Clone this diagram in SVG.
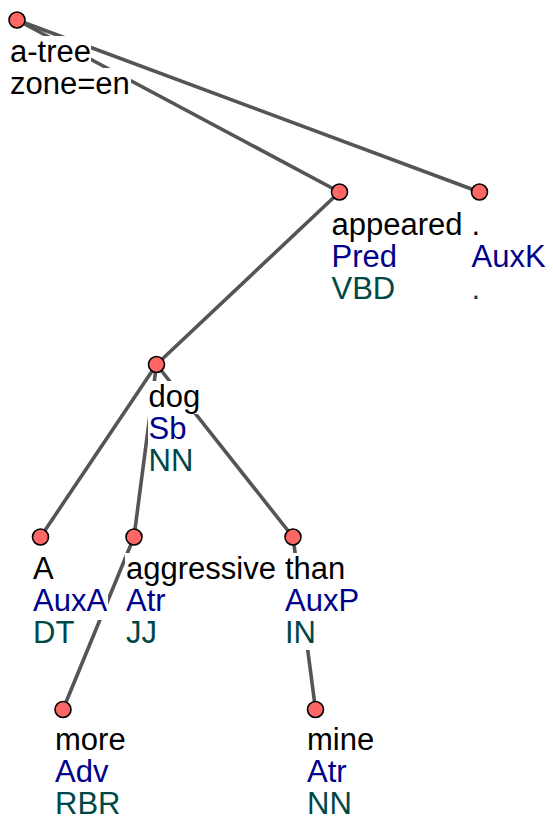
<svg xmlns="http://www.w3.org/2000/svg" width="553" height="825" viewBox="0 0 553 825">
<style>
.edge{stroke:#555555;stroke-width:3.6;stroke-linecap:round;fill:none}
.node{fill:#ff6666;stroke:#000000;stroke-width:1.6}
.bg{fill:#ffffff}
text{font-family:"Liberation Sans",Arial,sans-serif;font-size:31px}
.f{fill:#000000}
.a{fill:#00008b}
.t{fill:#004848}
</style>
<rect width="553" height="825" fill="#ffffff"/>
<g id="connectors">
<line class="edge" x1="17" y1="20" x2="339.5" y2="192"/>
<line class="edge" x1="17" y1="20" x2="479.5" y2="192"/>
<line class="edge" x1="156.5" y1="364.5" x2="339.5" y2="192"/>
<line class="edge" x1="156.5" y1="364.5" x2="40.5" y2="537"/>
<line class="edge" x1="156.5" y1="364.5" x2="134" y2="537"/>
<line class="edge" x1="156.5" y1="364.5" x2="293" y2="537"/>
<line class="edge" x1="134" y1="537" x2="63" y2="709.5"/>
<line class="edge" x1="293" y1="537" x2="315.5" y2="709.5"/>
</g>
<g id="root">
<rect class="bg" x="9" y="36" width="82" height="33"/>
<rect class="bg" x="9" y="68" width="122" height="33"/>
<text class="f" x="10" y="62">a-tree</text>
<text class="f" x="10" y="94">zone=en</text>
<circle class="node" cx="17" cy="20" r="8"/>
</g>
<g id="n-appeared">
<rect class="bg" x="331" y="208" width="133" height="33"/>
<rect class="bg" x="331" y="240" width="68" height="33"/>
<rect class="bg" x="331" y="272" width="66" height="33"/>
<text class="f" x="331.5" y="234.5">appeared</text>
<text class="a" x="331.5" y="266.5">Pred</text>
<text class="t" x="331.5" y="298.5">VBD</text>
<circle class="node" cx="339.5" cy="192" r="8"/>
</g>
<g id="n-period">
<rect class="bg" x="471" y="208" width="11" height="33"/>
<rect class="bg" x="471" y="240" width="76" height="33"/>
<rect class="bg" x="471" y="272" width="11" height="33"/>
<text class="f" x="471.5" y="234.5">.</text>
<text class="a" x="471.5" y="266.5">AuxK</text>
<text class="t" x="471.5" y="298.5">.</text>
<circle class="node" cx="479.5" cy="192" r="8"/>
</g>
<g id="n-dog">
<rect class="bg" x="148" y="381" width="54" height="33"/>
<rect class="bg" x="148" y="413" width="40" height="33"/>
<rect class="bg" x="148" y="445" width="47" height="33"/>
<text class="f" x="148.5" y="407">dog</text>
<text class="a" x="148.5" y="439">Sb</text>
<text class="t" x="148.5" y="471">NN</text>
<circle class="node" cx="156.5" cy="364.5" r="8"/>
</g>
<g id="n-A">
<rect class="bg" x="32" y="553" width="23" height="33"/>
<rect class="bg" x="32" y="585" width="76" height="35"/>
<rect class="bg" x="32" y="617" width="43" height="33"/>
<text class="f" x="33" y="579">A</text>
<text class="a" x="33" y="611">AuxA</text>
<text class="t" x="33" y="643">DT</text>
<circle class="node" cx="40.5" cy="537" r="8"/>
</g>
<g id="n-aggressive">
<rect class="bg" x="125" y="553" width="152" height="33"/>
<rect class="bg" x="125" y="585" width="42" height="33"/>
<rect class="bg" x="125" y="617" width="33" height="33"/>
<text class="f" x="126" y="579">aggressive</text>
<text class="a" x="126" y="611">Atr</text>
<text class="t" x="126" y="643">JJ</text>
<circle class="node" cx="134" cy="537" r="8"/>
</g>
<g id="n-than">
<rect class="bg" x="284" y="553" width="62" height="33"/>
<rect class="bg" x="284" y="585" width="76" height="33"/>
<rect class="bg" x="284" y="617" width="33" height="33"/>
<text class="f" x="285" y="579">than</text>
<text class="a" x="285" y="611">AuxP</text>
<text class="t" x="285" y="643">IN</text>
<circle class="node" cx="293" cy="537" r="8"/>
</g>
<g id="n-more">
<rect class="bg" x="54" y="724" width="73" height="33"/>
<rect class="bg" x="54" y="756" width="55" height="33"/>
<rect class="bg" x="54" y="788" width="67" height="33"/>
<text class="f" x="55" y="750">more</text>
<text class="a" x="55" y="782">Adv</text>
<text class="t" x="55" y="814">RBR</text>
<circle class="node" cx="63" cy="709.5" r="8"/>
</g>
<g id="n-mine">
<rect class="bg" x="306" y="724" width="69" height="33"/>
<rect class="bg" x="306" y="756" width="42" height="33"/>
<rect class="bg" x="306" y="788" width="47" height="33"/>
<text class="f" x="307" y="750">mine</text>
<text class="a" x="307" y="782">Atr</text>
<text class="t" x="307" y="814">NN</text>
<circle class="node" cx="315.5" cy="709.5" r="8"/>
</g>
</svg>
